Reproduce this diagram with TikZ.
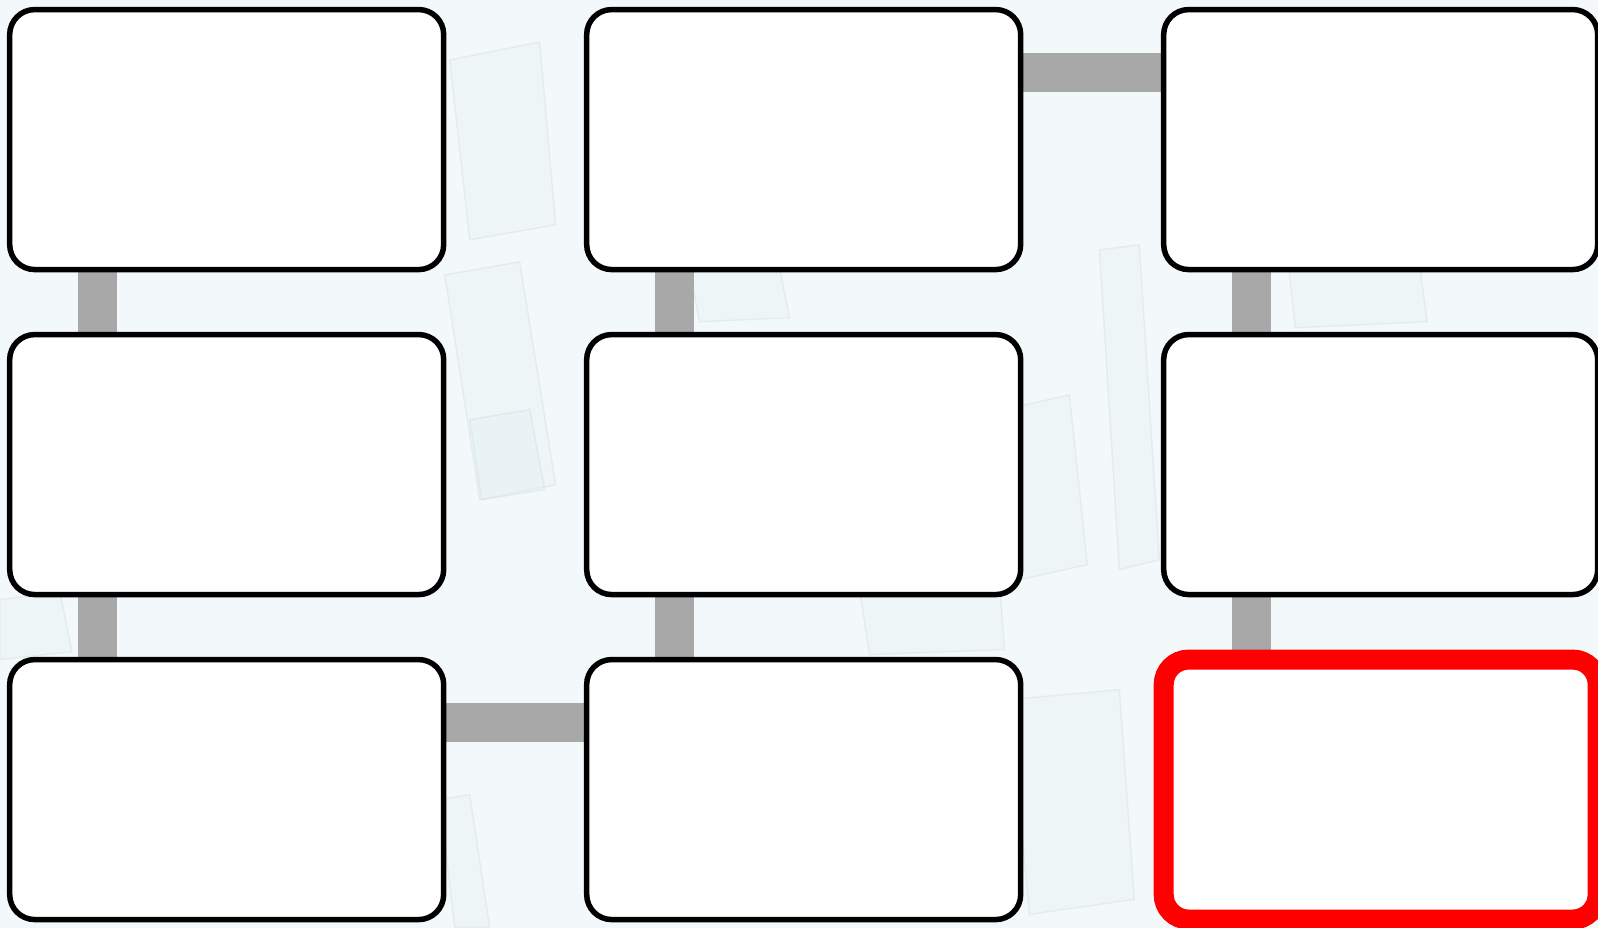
\documentclass[tikz,border=0pt]{standalone}
\usetikzlibrary{positioning}
\definecolor{bgblue}{HTML}{F3F9FA}
\definecolor{panel}{HTML}{E2EFF1}
\definecolor{bargray}{HTML}{A8A8A8}
\pgfdeclarelayer{backdrop}
\pgfdeclarelayer{bars}
\pgfsetlayers{backdrop,bars,main}
\tikzset{
  stepbox/.style={draw=black,line width=0.055cm,fill=white,rounded corners=0.25cm,
    minimum width=4.34cm,minimum height=2.6cm,inner sep=0pt,outer sep=0pt},
  lastbox/.style={stepbox,draw=red,line width=0.2cm},
  bar/.style={bargray,line width=0.39cm},
  pane/.style={fill=panel,fill opacity=0.35,draw=panel!70!gray,draw opacity=0.25,line width=0.4pt}
}
\begin{document}
\begin{tikzpicture}
\useasboundingbox (0,0) rectangle (15.98,9.28);
\clip (0,0) rectangle (15.98,9.28);
\begin{pgfonlayer}{backdrop}
\fill[bgblue] (0,0) rectangle (15.98,9.28);
% faint building panels
\begin{scope}[x=0.01cm,y=-0.01cm,yshift=9.28cm]
\draw[pane] (450,60) -- (540,42) -- (556,225) -- (470,240) -- cycle;
\draw[pane] (445,275) -- (520,262) -- (556,485) -- (480,500) -- cycle;
\draw[pane] (470,420) -- (530,410) -- (545,490) -- (482,500) -- cycle;
\draw[pane] (1005,410) -- (1070,395) -- (1088,565) -- (1012,582) -- cycle;
\draw[pane] (1100,250) -- (1140,245) -- (1160,560) -- (1120,570) -- cycle;
\draw[pane] (1290,272) -- (1420,262) -- (1428,322) -- (1296,328) -- cycle;
\draw[pane] (690,272) -- (780,268) -- (790,318) -- (700,322) -- cycle;
\draw[pane] (0,600) -- (60,592) -- (72,652) -- (0,660) -- cycle;
\draw[pane] (440,800) -- (470,795) -- (490,928) -- (455,928) -- cycle;
\draw[pane] (1010,700) -- (1120,690) -- (1135,900) -- (1030,915) -- cycle;
\draw[pane] (860,590) -- (1000,580) -- (1005,650) -- (870,655) -- cycle;
\end{scope}
\end{pgfonlayer}
% row 1
\node[stepbox] (s1) at (2.267,7.884) {};
\node[stepbox,right=1.43cm of s1] (s6) {};
\node[stepbox,right=1.43cm of s6] (s7) {};
% row 2
\node[stepbox,below=0.65cm of s1] (s2) {};
\node[stepbox,below=0.65cm of s6] (s5) {};
\node[stepbox,below=0.65cm of s7] (s8) {};
% row 3
\node[stepbox,below=0.65cm of s2] (s3) {};
\node[stepbox,below=0.65cm of s5] (s4) {};
\node[lastbox,below=0.65cm of s8] (s9) {};
% links
\begin{pgfonlayer}{bars}
\draw[bar] ([xshift=-1.29cm]s1.south) -- ([xshift=-1.29cm]s2.north);
\draw[bar] ([xshift=-1.29cm]s2.south) -- ([xshift=-1.29cm]s3.north);
\draw[bar] ([yshift=0.67cm]s3.east) -- ([yshift=0.67cm]s4.west);
\draw[bar] ([xshift=-1.29cm]s4.north) -- ([xshift=-1.29cm]s5.south);
\draw[bar] ([xshift=-1.29cm]s5.north) -- ([xshift=-1.29cm]s6.south);
\draw[bar] ([yshift=0.67cm]s6.east) -- ([yshift=0.67cm]s7.west);
\draw[bar] ([xshift=-1.29cm]s7.south) -- ([xshift=-1.29cm]s8.north);
\draw[bar] ([xshift=-1.29cm]s8.south) -- ([xshift=-1.29cm]s9.north);
\end{pgfonlayer}
\end{tikzpicture}
\end{document}
